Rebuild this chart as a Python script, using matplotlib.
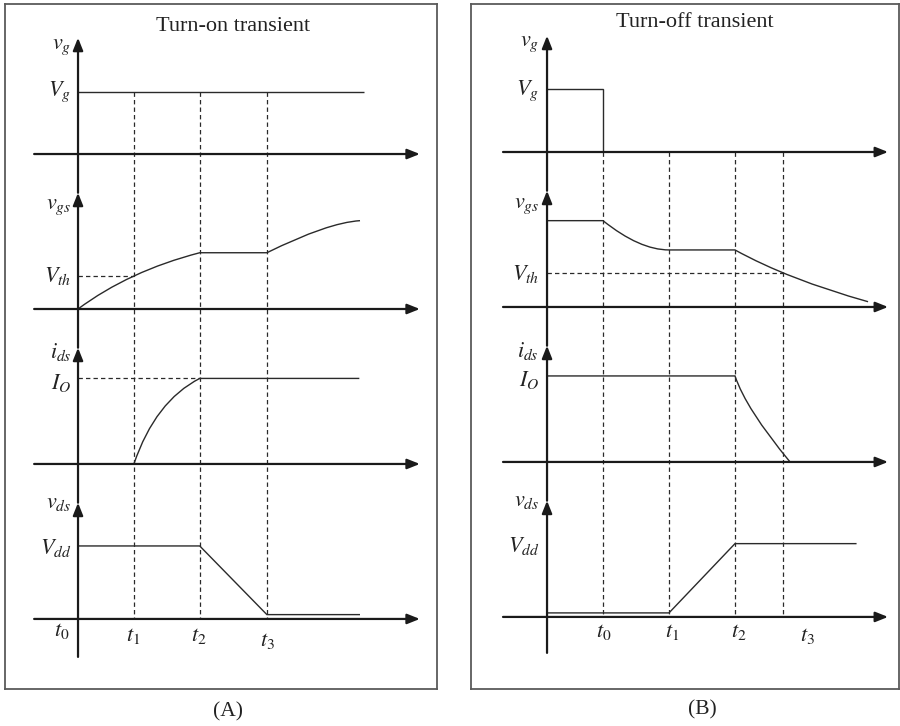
import matplotlib
matplotlib.use("Agg")
import matplotlib.pyplot as plt
from matplotlib.path import Path
from matplotlib.patches import PathPatch

# ---------------- data ----------------
# Turn-on transient (A): time marks t0..t3 and signal shapes (row-normalised levels)
on_times = [0.0, 0.84, 1.83, 2.84]
on_time_labels = ['$t_0$', '$t_1$', '$t_2$', '$t_3$']
on_vg_pts = [(0.0, 0.40), (4.30, 0.40)]
on_vg_codes = 'ML'
on_vgs_pts = [(0.0, 0.0), (0.767, 0.245), (1.83, 0.363), (2.84, 0.363), (3.755, 0.557), (4.24, 0.570)]
on_vgs_codes = 'MQQLQQ'
on_ids_pts = [(0.84, 0.0), (1.162, 0.406), (1.83, 0.552), (4.23, 0.552)]
on_ids_codes = 'MQQL'
on_vds_pts = [(0.0, 0.471), (1.83, 0.471), (2.84, 0.028), (4.24, 0.028)]
on_vds_codes = 'MLLL'
on_vth = 0.213
on_io = 0.552

# Turn-off transient (B)
off_times = [0.848, 1.848, 2.848, 3.576]
off_time_labels = ['$t_0$', '$t_1$', '$t_2$', '$t_3$']
off_vg_pts = [(0.0, 0.406), (0.848, 0.406), (0.848, 0.0)]
off_vg_codes = 'MLL'
off_vgs_pts = [(0.0, 0.557), (0.848, 0.557), (1.403, 0.368), (1.848, 0.368), (2.848, 0.368), (3.661, 0.177), (4.864, 0.034)]
off_vgs_codes = 'MLQQLQQ'
off_ids_pts = [(0.0, 0.555), (2.848, 0.555), (3.015, 0.342), (3.682, 0.0)]
off_ids_codes = 'MLQQ'
off_vds_pts = [(0.0, 0.026), (1.848, 0.026), (2.848, 0.473), (4.69, 0.473)]
off_vds_codes = 'MLLL'
off_vth = 0.217
off_io = 0.555

row_labels = [r'$v_g$', r'$v_{gs}$', r'$i_{ds}$', r'$v_{ds}$']
level_labels = [r'$V_g$', r'$V_{th}$', r'$I_O$', r'$V_{dd}$']

# ---------------- style ----------------
plt.rcParams['mathtext.fontset'] = 'stix'
plt.rcParams['font.family'] = ['Liberation Serif', 'DejaVu Serif']

AX_COLOR = '#1a1a1a'
SIG_COLOR = '#2a2a2a'
BOX_COLOR = '#5a5a5a'
DASH = (0, (3.5, 2.5))
CODEMAP = {'M': Path.MOVETO, 'L': Path.LINETO, 'Q': Path.CURVE3}

fig = plt.figure(figsize=(9, 7.26), dpi=100)


def draw_trace(ax, pts, codes, row):
    verts = [(x, y - row) for x, y in pts]
    ax.add_patch(PathPatch(Path(verts, [CODEMAP[c] for c in codes]), fill=False,
                           ec=SIG_COLOR, lw=1.0, zorder=3, capstyle='butt', joinstyle='miter'))


def arrow(ax, start, tip):
    ax.annotate('', xy=tip, xytext=start, xycoords='data', textcoords='data',
                arrowprops=dict(arrowstyle='-|>,head_length=0.75,head_width=0.3',
                                mutation_scale=10, lw=1.6, color=AX_COLOR,
                                shrinkA=0, shrinkB=0), zorder=4)


def setup_panel(rect, xlim, ylim, x_axis_range, v_bottom):
    ax = fig.add_axes(rect)
    ax.set_xlim(*xlim)
    ax.set_ylim(*ylim)
    ax.set_xticks([])
    ax.set_yticks([])
    for s in ax.spines.values():
        s.set_color(BOX_COLOR)
        s.set_linewidth(1.3)
    # horizontal time axes
    for k in range(4):
        arrow(ax, (x_axis_range[0], -k), (x_axis_range[1], -k))
    # vertical axis with an arrowhead for each row
    prev = v_bottom
    for k in [3, 2, 1, 0]:
        tip = 0.75 - k
        arrow(ax, (0, prev), (0, tip))
        prev = tip
    return ax


def row_texts(ax, label_x, row_ys, level_ys):
    for lab, y in zip(row_labels, row_ys):
        ax.text(label_x, y, lab, ha='right', va='center', fontsize=16, color='#222')
    for lab, y in zip(level_labels, level_ys):
        ax.text(label_x, y, lab, ha='right', va='center', fontsize=16, color='#222')


# ---------------- panel A ----------------
axA = setup_panel([5 / 900, 37 / 726, 432 / 900, 685 / 726],
                  (-1.098, 5.398), (-3.452, 0.968), (-0.66, 5.14), -3.245)
draw_trace(axA, on_vg_pts, on_vg_codes, 0)
draw_trace(axA, on_vgs_pts, on_vgs_codes, 1)
draw_trace(axA, on_ids_pts, on_ids_codes, 2)
draw_trace(axA, on_vds_pts, on_vds_codes, 3)
for t in on_times[1:]:
    axA.plot([t, t], [on_vg_pts[0][1], -3], ls=DASH, color=SIG_COLOR, lw=0.9, zorder=2)
axA.plot([0, on_times[1]], [on_vth - 1, on_vth - 1], ls=DASH, color=SIG_COLOR, lw=0.9, zorder=2)
axA.plot([0, on_times[2]], [on_io - 2, on_io - 2], ls=DASH, color=SIG_COLOR, lw=0.9, zorder=2)
row_texts(axA, -0.1, [0.69, -0.345, -1.28, -2.255], [0.403, -0.79, -1.48, -2.542])
for lab, x, y in zip(on_time_labels, [-0.24, 0.83, 1.82, 2.85], [-3.08, -3.11, -3.11, -3.14]):
    axA.text(x, y, lab, ha='center', va='center', fontsize=16, color='#222')
axA.text(2.33, 0.82, 'Turn-on transient', ha='center', va='center', fontsize=16, color='#222')
axA.text(2.256, -3.6, '(A)', ha='center', va='center', fontsize=15.5, color='#222')

# ---------------- panel B ----------------
axB = setup_panel([471 / 900, 37 / 726, 428 / 900, 685 / 726],
                  (-1.152, 5.333), (-3.465, 0.955), (-0.667, 5.167), -3.232)
draw_trace(axB, off_vg_pts, off_vg_codes, 0)
draw_trace(axB, off_vgs_pts, off_vgs_codes, 1)
draw_trace(axB, off_ids_pts, off_ids_codes, 2)
draw_trace(axB, off_vds_pts, off_vds_codes, 3)
for t in off_times:
    axB.plot([t, t], [0, -3], ls=DASH, color=SIG_COLOR, lw=0.9, zorder=2)
axB.plot([0, off_times[3]], [off_vth - 1, off_vth - 1], ls=DASH, color=SIG_COLOR, lw=0.9, zorder=2)
row_texts(axB, -0.12, [0.697, -0.348, -1.284, -2.252], [0.394, -0.787, -1.471, -2.542])
for lab, x, y in zip(off_time_labels, [0.864, 1.89, 2.91, 3.95], [-3.1, -3.1, -3.1, -3.126]):
    axB.text(x, y, lab, ha='center', va='center', fontsize=16, color='#222')
axB.text(2.24, 0.835, 'Turn-off transient', ha='center', va='center', fontsize=16, color='#222')
axB.text(2.35, -3.6, '(B)', ha='center', va='center', fontsize=15.5, color='#222')

fig.savefig('out.png', dpi=100)
